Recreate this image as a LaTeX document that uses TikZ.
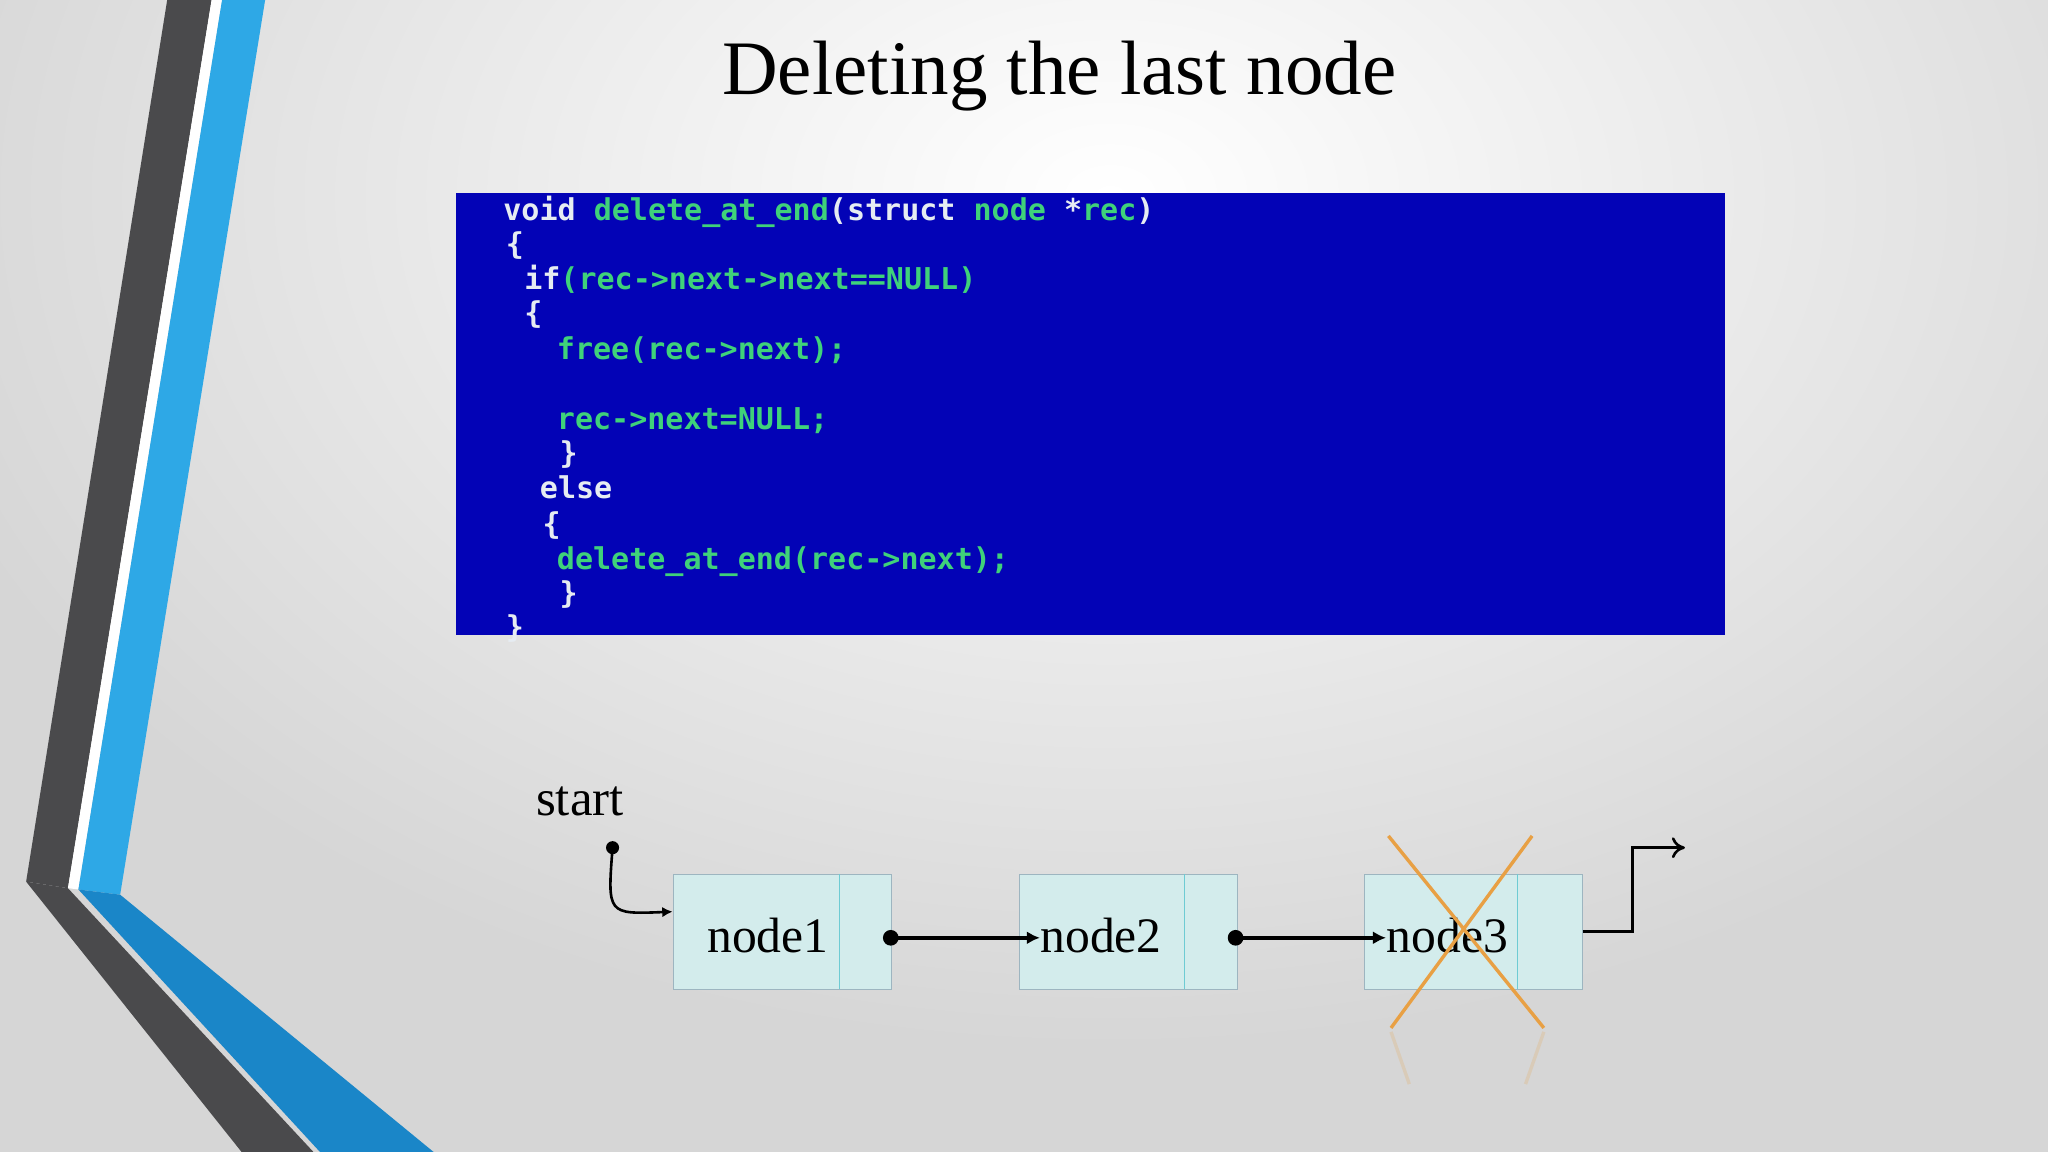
\documentclass[tikz,border=0pt]{standalone}
\usepackage{fontspec}
\setmainfont{Liberation Serif}
\newfontfamily\codefont{DejaVu Sans Mono}
\usetikzlibrary{arrows.meta}
\definecolor{codeblue}{HTML}{0303B6}
\definecolor{codegreen}{HTML}{3FD27A}
\definecolor{codewhite}{HTML}{E6ECF2}
\definecolor{cellfill}{HTML}{D3ECEC}
\definecolor{celledge}{HTML}{9DB5C0}
\definecolor{darkband}{HTML}{4A4A4C}
\definecolor{blueband}{HTML}{2EA8E6}
\definecolor{bluelow}{HTML}{1A86C8}
\definecolor{crossc}{HTML}{E8A044}
\tikzset{
  cell/.style={draw=celledge,fill=cellfill,minimum width=83.5pt,minimum height=44pt,inner sep=0pt,anchor=north west},
  celltxt/.style={font=\fontsize{19}{21}\selectfont,inner sep=0pt},
  link/.style={line width=1.6pt,-{Latex[length=5pt,width=5pt]}},
  codeline/.style={anchor=base west,inner sep=0pt,font=\codefont\bfseries\fontsize{11.5}{12}\selectfont,text=codegreen},
  crossline/.style={draw=crossc,line width=1.3pt}
}
\newcommand{\kw}[1]{\textcolor{codewhite}{#1}}
\begin{document}
\begin{tikzpicture}[x=0.5pt,y=-0.5pt]
\useasboundingbox (0,0) rectangle (1568,882);
\fill[gray!32] (0,0) rectangle (1568,882);
\shade[inner color=white,outer color=gray!32] (850,150) ellipse (950 and 650);
% left decoration
\fill[darkband] (128,0) -- (162,0) -- (52,680) -- (20,675) -- cycle;
\fill[white] (162,0) -- (170,0) -- (60,681) -- (52,680) -- cycle;
\fill[blueband] (170,0) -- (203,0) -- (92,685) -- (60,681) -- cycle;
\fill[darkband] (20,675) -- (52,680) -- (240,882) -- (185,882) -- cycle;
\fill[bluelow] (60,681) -- (92,685) -- (332,882) -- (245,882) -- cycle;
% title
\node[font=\fontsize{29.5}{32}\selectfont,anchor=base] (title) at (811,72) {Deleting the last node};
% code box
\node[fill=codeblue,minimum width=485.5pt,minimum height=169.5pt,anchor=north west,inner sep=0pt] (code) at (349,147) {};
\node[codeline] (c1) at (385,169) {\kw{void} delete\_at\_end\kw{(struct} node \kw{*}rec\kw{)}};
\node[codeline] (c2) at (387,195) {\kw{\{}};
\node[codeline] (c3) at (401,222) {\kw{if}(rec->next->next==NULL)};
\node[codeline] (c4) at (401,248) {\kw{\{}};
\node[codeline] (c5) at (426,275) {free(rec->next);};
\node[codeline] (c6) at (426,329) {rec->next=NULL;};
\node[codeline] (c7) at (428,355) {\kw{\}}};
\node[codeline] (c8) at (413,382) {\kw{else}};
\node[codeline] (c9) at (415,409) {\kw{\{}};
\node[codeline] (c10) at (426,436) {delete\_at\_end(rec->next);};
\node[codeline] (c11) at (428,462) {\kw{\}}};
\node[codeline] (c12) at (387,488) {\kw{\}}};
% list
\node[font=\fontsize{19.5}{22}\selectfont,anchor=base west,inner sep=0pt] (start) at (410,624) {start};
\node[cell] (n1) at (515,669) {};
\node[cell] (n2) at (780,669) {};
\node[cell] (n3) at (1044,669) {};
\draw[celledge!70!cyan,line width=0.3pt] (643,669) -- (643,757) (907,669) -- (907,757) (1162,669) -- (1162,757);
\node[celltxt] (t1) at (588,716) {node1};
\node[celltxt] (t2) at (843,716) {node2};
\node[celltxt] (t3) at (1108,716) {node3};
\coordinate (s0) at (469,649);
\coordinate (p1) at (682,718);
\coordinate (p2) at (946,718);
\fill (s0) circle (2.5pt) (p1) circle (3pt) (p2) circle (3pt);
\draw[line width=1pt,-{Latex[length=4pt,width=4pt]}] (s0) .. controls (465,700) .. (n1.west|-0,698);
\draw[link] (p1) -- (t2.west|-p1);
\draw[link] (p2) -- (t3.west|-p2);
\coordinate (e1) at (1250,713);
\coordinate (e2) at (1250,649);
\coordinate (e3) at (1290,649);
\draw[line width=1pt,-{To[length=5pt,width=8pt]}] (n3.east|-e1) -- (e1) -- (e2) -- (e3);
% cross
\draw[crossline] (1063,640) -- (1182,787) (1173,640) -- (1065,787);
\draw[crossline,opacity=0.2] (1182,790) -- (1168,830) (1065,790) -- (1079,830);
\end{tikzpicture}
\end{document}
